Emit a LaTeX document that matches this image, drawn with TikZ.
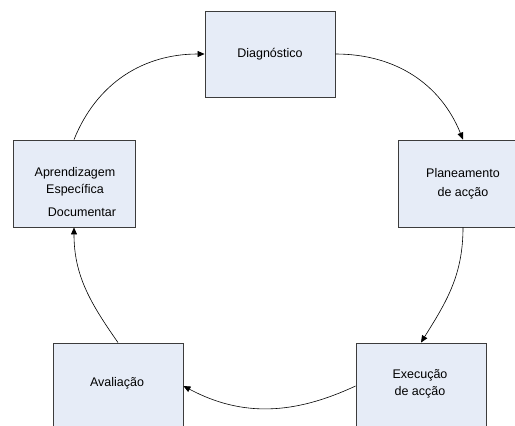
\documentclass[tikz,border=0pt]{standalone}
\usepackage{fontspec}
\setmainfont{Liberation Sans}
\usetikzlibrary{arrows.meta}
\definecolor{boxfill}{RGB}{230,236,247}
\definecolor{boxline}{RGB}{60,60,60}
\begin{document}
\begin{tikzpicture}[x=1pt,y=-1pt,
  stagebox/.style={draw=boxline,fill=boxfill,line width=0.9pt,inner sep=0pt,
    align=center,font=\fontsize{12.5}{17}\selectfont},
  txt/.style={inner sep=0pt,align=center,font=\fontsize{12.5}{17}\selectfont},
  flow/.style={line width=0.6pt,-{Triangle[length=7pt,width=6pt]}}]
\useasboundingbox (0,0) rectangle (515,426);
\node[stagebox,minimum width=130pt,minimum height=86pt] (diag) at (270,54) {Diagnóstico};
\node[stagebox,minimum width=130pt,minimum height=87pt] (plan) at (463,183.5) {Planeamento\\[2pt]de acção};
\node[stagebox,minimum width=122pt,minimum height=87pt] (apren) at (74,183.5) {};
\node[txt] (aprtxt) at (75,182) {Aprendizagem\\Específica};
\node[txt] (doc) at (82,212) {Documentar};
\node[stagebox,minimum width=130pt,minimum height=86pt] (aval) at (118,386) {};
\node[txt] (avaltxt) at (117,383) {Avaliação};
\node[stagebox,minimum width=130pt,minimum height=86pt] (exec) at (421,386) {};
\node[txt] (exectxt) at (420,384) {Execução\\de acção};
\draw[flow] (diag.east) to[out=0,in=112] (plan.north);
\draw[flow] (plan.south) to[out=-90,in=58] (exec.north);
\draw[flow] (exec.west) to[out=205,in=-28] (aval.east);
\draw[flow] (aval.north) to[out=125,in=-90] (apren.south);
\draw[flow] (apren.north) to[out=68,in=180] (diag.west);
\end{tikzpicture}
\end{document}
